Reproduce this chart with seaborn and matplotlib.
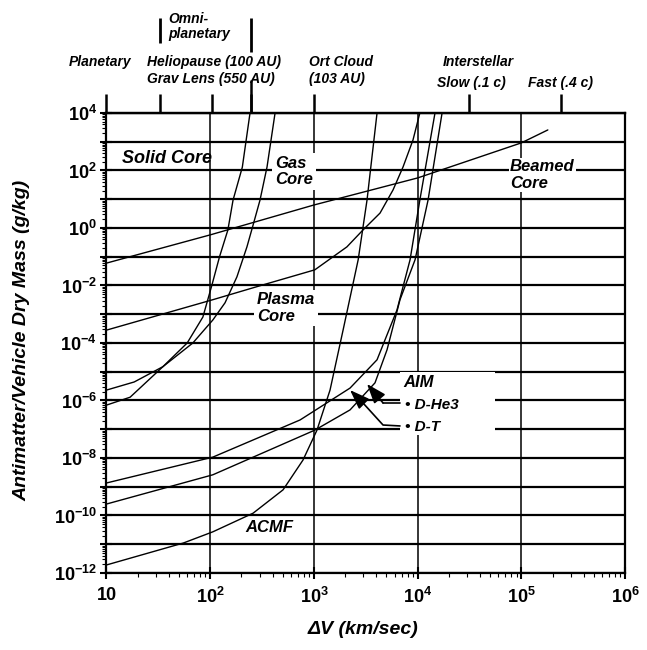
import numpy as np
import pandas as pd
import seaborn as sns
import matplotlib.pyplot as plt
from matplotlib.ticker import LogLocator, NullLocator, NullFormatter
from matplotlib.patches import Rectangle

# Propulsion curves: delta-V (km/s) vs antimatter / dry mass (g/kg)
dv_solid = [10, 18.5, 35, 60, 85, 104, 123, 148, 166, 204, 242]
m_solid = [2.3e-6, 4.4e-6, 1.5e-5, 1e-4, 8e-4, 1.05e-2, 0.1, 0.85, 9.3, 130, 1e4]

dv_gas = [10, 16.9, 35, 68, 106, 139, 181, 226, 259, 302, 353, 422]
m_gas = [6.9e-7, 1.3e-6, 1.5e-5, 1e-4, 6.3e-4, 2.5e-3, 2e-2, 0.22, 1.26, 9.3, 132, 1e4]

dv_beamed = [10, 100, 1000, 1e4, 1e5, 1.8e5]
m_beamed = [0.06, 0.575, 6.3, 55, 912, 2570]

dv_plasma = [10, 106, 323, 1020, 2080, 2970, 4340, 5790, 7230, 9020, 10500]
m_plasma = [2.8e-4, 3.2e-3, 1.05e-2, 3.5e-2, 0.22, 0.85, 3.3, 21, 132, 1150, 1e4]

dv_acmf = [10, 55, 106, 259, 504, 785, 1070, 1430, 1910, 2670, 3250, 4060]
m_acmf = [1.9e-12, 1.1e-11, 2.7e-11, 1.2e-10, 7.8e-10, 8.5e-9, 9.3e-8, 2.3e-6,
          2.8e-4, 7.8e-2, 9.3, 1e4]

dv_dt = [10, 106, 735, 2230, 4060, 6320, 8450, 10500, 14700]
m_dt = [1.35e-9, 1.07e-8, 2.1e-7, 2.7e-6, 2.6e-5, 1.4e-3, 7.8e-2, 9.3, 1e4]

dv_dhe3 = [10, 106, 1020, 2230, 3880, 5070, 6760, 9440, 12600, 17200]
m_dhe3 = [2.5e-10, 2.6e-9, 9.3e-8, 4.7e-7, 4.1e-6, 5.8e-5, 3.2e-3, 7.8e-2, 9.3, 1e4]

# mission milestones on the top axis
top_ticks = [10, 33, 105, 245, 1000, 3.1e4, 2.4e5]
omni_bounds = [33, 245]

x_ticks = [10, 1e2, 1e3, 1e4, 1e5, 1e6]
x_labels = ['10', '$10^{2}$', '$10^{3}$', '$10^{4}$', '$10^{5}$', '$10^{6}$']
y_exps = list(range(-12, 5))

curves = {
    'Solid Core': (dv_solid, m_solid),
    'Gas Core': (dv_gas, m_gas),
    'Beamed Core': (dv_beamed, m_beamed),
    'Plasma Core': (dv_plasma, m_plasma),
    'ACMF': (dv_acmf, m_acmf),
    'AIM D-T': (dv_dt, m_dt),
    'AIM D-He3': (dv_dhe3, m_dhe3),
}
df = pd.concat([pd.DataFrame({'dv': x, 'mass': y, 'engine': k})
                for k, (x, y) in curves.items()], ignore_index=True)

sns.set_style("ticks")
plt.rcParams['font.family'] = ['Liberation Sans', 'DejaVu Sans']
plt.rcParams['font.weight'] = 'bold'
plt.rcParams['text.color'] = 'black'
plt.rcParams['axes.labelcolor'] = 'black'
plt.rcParams['xtick.color'] = 'black'
plt.rcParams['ytick.color'] = 'black'
plt.rcParams['mathtext.fontset'] = 'custom'
plt.rcParams['mathtext.rm'] = 'Liberation Sans:bold'
plt.rcParams['mathtext.it'] = 'Liberation Sans:bold:italic'
plt.rcParams['mathtext.bf'] = 'Liberation Sans:bold'

fig = plt.figure(figsize=(6.47, 6.5), dpi=100)
ax = fig.add_axes([0.1646, 0.1185, 0.8015, 0.7077])
ax.set_xscale('log')
ax.set_yscale('log')

sns.lineplot(data=df, x='dv', y='mass', units='engine', estimator=None,
             color='black', lw=1.0, ax=ax, legend=False, zorder=2.2)

ax.set_xlim(10, 1e6)
ax.set_ylim(1e-12, 1e4)
ax.set_xlabel('')
ax.set_ylabel('')

ax.set_xticks(x_ticks, labels=x_labels)
ax.set_yticks([10.0 ** e for e in y_exps],
              labels=[f'$10^{{{e}}}$' if e % 2 == 0 else '' for e in y_exps])
ax.xaxis.set_minor_locator(LogLocator(base=10, subs=np.arange(2, 10), numticks=100))
ax.yaxis.set_minor_locator(LogLocator(base=10, subs=np.arange(2, 10), numticks=100))
ax.xaxis.set_minor_formatter(NullFormatter())
ax.yaxis.set_minor_formatter(NullFormatter())
ax.tick_params(which='major', direction='inout', length=8, width=1.5,
               labelsize=13, top=False, right=False, colors='black')
ax.tick_params(which='minor', direction='out', length=3, width=0.8,
               top=False, right=False, colors='black')
ax.tick_params(axis='x', which='major', pad=6)
ax.tick_params(axis='y', which='major', pad=3)

ax.grid(which='major', axis='y', color='black', lw=1.6)
ax.grid(which='major', axis='x', color='black', lw=1.1)
for s in ax.spines.values():
    s.set_linewidth(1.6)
    s.set_color('black')

# top milestone axis
secax = ax.secondary_xaxis('top')
secax.set_xticks(top_ticks)
secax.xaxis.set_major_formatter(NullFormatter())
secax.xaxis.set_minor_locator(NullLocator())
secax.tick_params(length=14, width=1.8, direction='out', colors='black')
secax.spines['top'].set_linewidth(1.6)
secax.spines['top'].set_color('black')

trans = ax.get_xaxis_transform()
ax.vlines(omni_bounds[0], 1.152, 1.2065, transform=trans, color='black', lw=2, clip_on=False)
ax.vlines(omni_bounds[1], 1.1326, 1.2065, transform=trans, color='black', lw=2, clip_on=False)
ax.vlines(omni_bounds[1], 1.0, 1.0717, transform=trans, color='black', lw=1.8, clip_on=False)

lab = dict(fontsize=12, fontweight='bold', style='italic', zorder=4, color='black')
box = dict(facecolor='white', edgecolor='none', pad=2)
ax.text(0.03, 0.902, 'Solid Core', transform=ax.transAxes, va='center', ha='left',
        fontsize=13, fontweight='bold', style='italic', color='black')
ax.text(0.325, 0.872, 'Gas\nCore', transform=ax.transAxes, va='center', ha='left',
        bbox=box, linespacing=1.1, **lab)
ax.text(0.778, 0.865, 'Beamed\nCore', transform=ax.transAxes, va='center', ha='left',
        bbox=dict(facecolor='white', edgecolor='none', pad=1), linespacing=1.1, **lab)
ax.text(0.29, 0.576, 'Plasma\nCore', transform=ax.transAxes, va='center', ha='left',
        bbox=box, linespacing=1.1, **lab)
ax.text(0.267, 0.098, 'ACMF', transform=ax.transAxes, va='center', ha='left',
        bbox=dict(facecolor='white', edgecolor='none', pad=1), **lab)

ax.add_patch(Rectangle((0.566, 0.30), 0.183, 0.137, transform=ax.transAxes,
                       facecolor='white', edgecolor='none', zorder=2.1))
ax.text(0.572, 0.413, 'AIM', transform=ax.transAxes, va='center', ha='left', **lab)
ax.text(0.575, 0.365, '• D-He3', transform=ax.transAxes, va='center', ha='left',
        fontsize=11, fontweight='bold', style='italic', zorder=4, color='black')
ax.text(0.575, 0.317, '• D-T', transform=ax.transAxes, va='center', ha='left',
        fontsize=11, fontweight='bold', style='italic', zorder=4, color='black')

# arrows pointing at the AIM curves
arrow = dict(arrowstyle='-|>,head_length=0.6,head_width=0.22', color='black',
             lw=1.2, shrinkA=0, shrinkB=0, mutation_scale=20)
ax.annotate('', xy=(3250, 3.75e-6), xytext=(4640, 8.2e-7), arrowprops=arrow, zorder=3)
ax.plot([4640, 6760], [8.2e-7, 8.2e-7], color='black', lw=1.2, zorder=3)
ax.annotate('', xy=(2230, 2.3e-6), xytext=(2910, 8.9e-7), arrowprops=arrow, zorder=3)
ax.plot([2910, 4640, 6760], [8.9e-7, 1.4e-7, 1.3e-7], color='black', lw=1.2, zorder=3)

# top labels
top = dict(fontsize=10, fontweight='bold', style='italic', va='center', color='black')
fig.text(100 / 647, 1 - 62 / 650, 'Planetary', ha='center', **top)
fig.text(147 / 647, 1 - 62 / 650, 'Heliopause (100 AU)', ha='left', **top)
fig.text(147 / 647, 1 - 79 / 650, 'Grav Lens (550 AU)', ha='left', **top)
fig.text(168 / 647, 1 - 19 / 650, 'Omni-', ha='left', **top)
fig.text(168 / 647, 1 - 34 / 650, 'planetary', ha='left', **top)
fig.text(309 / 647, 1 - 62 / 650, 'Ort Cloud', ha='left', **top)
fig.text(309 / 647, 1 - 79 / 650, '(103 AU)', ha='left', **top)
fig.text(478 / 647, 1 - 62 / 650, 'Interstellar', ha='center', **top)
fig.text(471 / 647, 1 - 83 / 650, 'Slow (.1 c)', ha='center', **top)
fig.text(561 / 647, 1 - 83 / 650, 'Fast (.4 c)', ha='center', **top)

fig.text(22 / 647, 1 - 340 / 650, 'Antimatter/Vehicle Dry Mass (g/kg)', rotation=90,
         ha='center', va='center', fontsize=14, fontweight='bold', style='italic',
         color='black')
fig.text(363 / 647, 1 - 630 / 650, 'ΔV (km/sec)', ha='center', va='center',
         fontsize=14, fontweight='bold', style='italic', color='black')

fig.savefig('out.png', dpi=100, facecolor='white')
